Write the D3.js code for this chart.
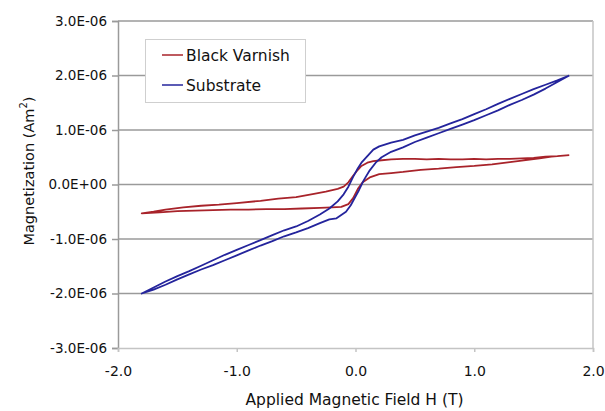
<!DOCTYPE html>
<meta charset="utf-8">
<style>
body { margin: 0; background: #fff; }
text { font-family: "DejaVu Sans", Verdana, sans-serif; fill: #111; }
.y-axis .tick text { font-size: 13.5px; }
.x-axis .tick text { font-size: 14px; }
.title { font-size: 15.5px; }
.legend text { font-size: 15.5px; }
</style>
<svg width="605" height="411"></svg>
<script src="https://d3js.org/d3.v7.min.js"></script>
<script>

// tick values
var xTicks = [-2, -1, 0, 1, 2],
    yTicks = [-3e-6, -2e-6, -1e-6, 0, 1e-6, 2e-6, 3e-6];

// Black Varnish loop, field (T) vs magnetization (1e-6 Am^2)
var varnishDown = [[1.80,0.54],[1.70,0.52],[1.60,0.51],[1.50,0.49],[1.40,0.48],[1.30,0.47],[1.20,0.47],[1.10,0.46],[1.00,0.47],[0.90,0.46],[0.80,0.46],[0.70,0.47],[0.60,0.46],[0.50,0.47],[0.40,0.47],[0.30,0.46],[0.20,0.44],[0.15,0.43],[0.10,0.40],[0.05,0.34],[0.02,0.27],[-0.02,0.16],[-0.06,0.04],[-0.10,-0.04],[-0.15,-0.08],[-0.25,-0.13],[-0.35,-0.17],[-0.50,-0.23],[-0.65,-0.26],[-0.80,-0.30],[-1.00,-0.34],[-1.15,-0.37],[-1.30,-0.39],[-1.45,-0.42],[-1.60,-0.46],[-1.70,-0.50],[-1.80,-0.53]];
var varnishUp = [[-1.80,-0.53],[-1.65,-0.51],[-1.50,-0.49],[-1.35,-0.48],[-1.20,-0.47],[-1.05,-0.46],[-0.90,-0.46],[-0.75,-0.45],[-0.60,-0.45],[-0.45,-0.44],[-0.30,-0.43],[-0.20,-0.42],[-0.12,-0.41],[-0.06,-0.36],[-0.02,-0.25],[0.02,-0.08],[0.06,0.04],[0.12,0.13],[0.20,0.19],[0.30,0.21],[0.40,0.23],[0.55,0.27],[0.70,0.29],[0.85,0.32],[1.00,0.34],[1.15,0.37],[1.30,0.41],[1.45,0.45],[1.55,0.48],[1.65,0.51],[1.80,0.54]];

// Substrate loop
var substrateDown = [[1.80,2.00],[1.70,1.91],[1.60,1.83],[1.50,1.75],[1.40,1.66],[1.30,1.57],[1.20,1.48],[1.10,1.38],[1.00,1.29],[0.90,1.20],[0.80,1.12],[0.70,1.04],[0.60,0.97],[0.50,0.90],[0.40,0.82],[0.30,0.77],[0.20,0.70],[0.15,0.64],[0.10,0.52],[0.05,0.40],[0.02,0.30],[-0.02,0.14],[-0.06,-0.04],[-0.10,-0.18],[-0.15,-0.31],[-0.22,-0.44],[-0.30,-0.55],[-0.40,-0.67],[-0.50,-0.77],[-0.60,-0.84],[-0.70,-0.93],[-0.80,-1.02],[-0.90,-1.11],[-1.00,-1.20],[-1.10,-1.29],[-1.20,-1.39],[-1.30,-1.49],[-1.40,-1.59],[-1.50,-1.68],[-1.60,-1.78],[-1.70,-1.89],[-1.80,-2.00]];
var substrateUp = [[-1.80,-2.00],[-1.70,-1.93],[-1.60,-1.84],[-1.50,-1.74],[-1.40,-1.65],[-1.30,-1.56],[-1.20,-1.48],[-1.10,-1.39],[-1.00,-1.30],[-0.90,-1.21],[-0.80,-1.12],[-0.70,-1.04],[-0.60,-0.95],[-0.50,-0.88],[-0.40,-0.80],[-0.30,-0.71],[-0.22,-0.64],[-0.16,-0.62],[-0.12,-0.56],[-0.08,-0.50],[-0.04,-0.38],[0.00,-0.22],[0.03,-0.10],[0.07,0.08],[0.12,0.26],[0.17,0.40],[0.22,0.50],[0.30,0.60],[0.40,0.68],[0.50,0.78],[0.60,0.86],[0.70,0.94],[0.80,1.02],[0.90,1.10],[1.00,1.18],[1.10,1.27],[1.20,1.36],[1.30,1.46],[1.40,1.55],[1.50,1.65],[1.60,1.76],[1.70,1.88],[1.80,2.00]];

var series = [
  {name: "Black Varnish", color: "#a8232a", pts: varnishDown.concat(varnishUp)},
  {name: "Substrate", color: "#24249c", pts: substrateDown.concat(substrateUp)}
];

var svg = d3.select("svg"),
    plotL = 118, plotR = 593, plotT = 21, plotB = 348;

var x = d3.scaleLinear().domain([-2, 2]).range([plotL, plotR]),
    y = d3.scaleLinear().domain([-3e-6, 3e-6]).range([plotB, plotT]);

// gridlines
svg.append("g")
  .selectAll("line")
  .data(yTicks.filter(function(d) { return d > -3e-6; }))
  .enter().append("line")
    .attr("x1", plotL).attr("x2", plotR)
    .attr("y1", function(d) { return y(d); })
    .attr("y2", function(d) { return y(d); })
    .attr("stroke", "#9a9a9a")
    .attr("stroke-width", 1.6);

// right border
svg.append("line")
    .attr("x1", plotR).attr("x2", plotR).attr("y1", plotT).attr("y2", plotB)
    .attr("stroke", "#c4c4c4").attr("stroke-width", 1.5);

function sci(d) {
  if (d === 0) return "0.0E+00";
  var e = d3.format(".1e")(d).toUpperCase().replace("\u2212", "-");   // 2.0E-6
  return e.replace(/E([+-])(\d)$/, "E$10$2");
}

// axes
var yAxis = svg.append("g")
    .attr("class", "y-axis")
    .attr("transform", "translate(" + plotL + ",0)")
    .call(d3.axisLeft(y).tickValues(yTicks).tickSize(6).tickPadding(5).tickFormat(sci));
yAxis.select(".domain").attr("stroke", "#9a9a9a").attr("stroke-width", 1.5);
yAxis.selectAll(".tick line").attr("stroke", "#9a9a9a").attr("stroke-width", 1.5);

var xAxis = svg.append("g")
    .attr("class", "x-axis")
    .attr("transform", "translate(0," + plotB + ")")
    .call(d3.axisBottom(x).tickValues(xTicks).tickSize(4).tickPadding(14)
      .tickFormat(function(d) { return d3.format(".1f")(d).replace("\u2212", "-"); }));
xAxis.select(".domain").attr("stroke", "#c4c4c4").attr("stroke-width", 1.5);
xAxis.selectAll(".tick line").attr("stroke", "#c4c4c4").attr("stroke-width", 1.5);

svg.selectAll(".tick text").attr("fill", "#111");

// curves
var line = d3.line()
    .x(function(d) { return x(d[0]); })
    .y(function(d) { return y(d[1] * 1e-6); });

svg.append("g")
  .selectAll("path")
  .data(series)
  .enter().append("path")
    .attr("d", function(d) { return line(d.pts); })
    .attr("fill", "none")
    .attr("stroke", function(d) { return d.color; })
    .attr("stroke-width", 1.8)
    .attr("stroke-linejoin", "round");

// axis titles
svg.append("text")
    .attr("class", "title")
    .attr("x", (plotL + plotR) / 2 - 1)
    .attr("y", 405)
    .attr("text-anchor", "middle")
    .text("Applied Magnetic Field H (T)");

var yt = svg.append("text")
    .attr("class", "title")
    .style("font-size", "14.5px")
    .attr("transform", "translate(34,171) rotate(-90)")
    .attr("text-anchor", "middle");
yt.append("tspan").text("Magnetization (Am");
yt.append("tspan").style("font-size", "10px").attr("dy", -7).text("2");
yt.append("tspan").attr("dy", 7).text(")");

// legend
var legend = svg.append("g").attr("class", "legend");
legend.append("rect")
    .attr("x", 145.5).attr("y", 39.5).attr("width", 160).attr("height", 63)
    .attr("fill", "#fff").attr("stroke", "#cfcfcf");

var item = legend.selectAll("g")
  .data(series)
  .enter().append("g")
    .attr("transform", function(d, i) { return "translate(0," + (55 + i * 30) + ")"; });
item.append("line")
    .attr("x1", 162).attr("x2", 183)
    .attr("stroke", function(d) { return d.color; })
    .attr("stroke-width", 1.5);
item.append("text")
    .attr("x", 186).attr("dy", "0.36em")
    .text(function(d) { return d.name; });

</script>
